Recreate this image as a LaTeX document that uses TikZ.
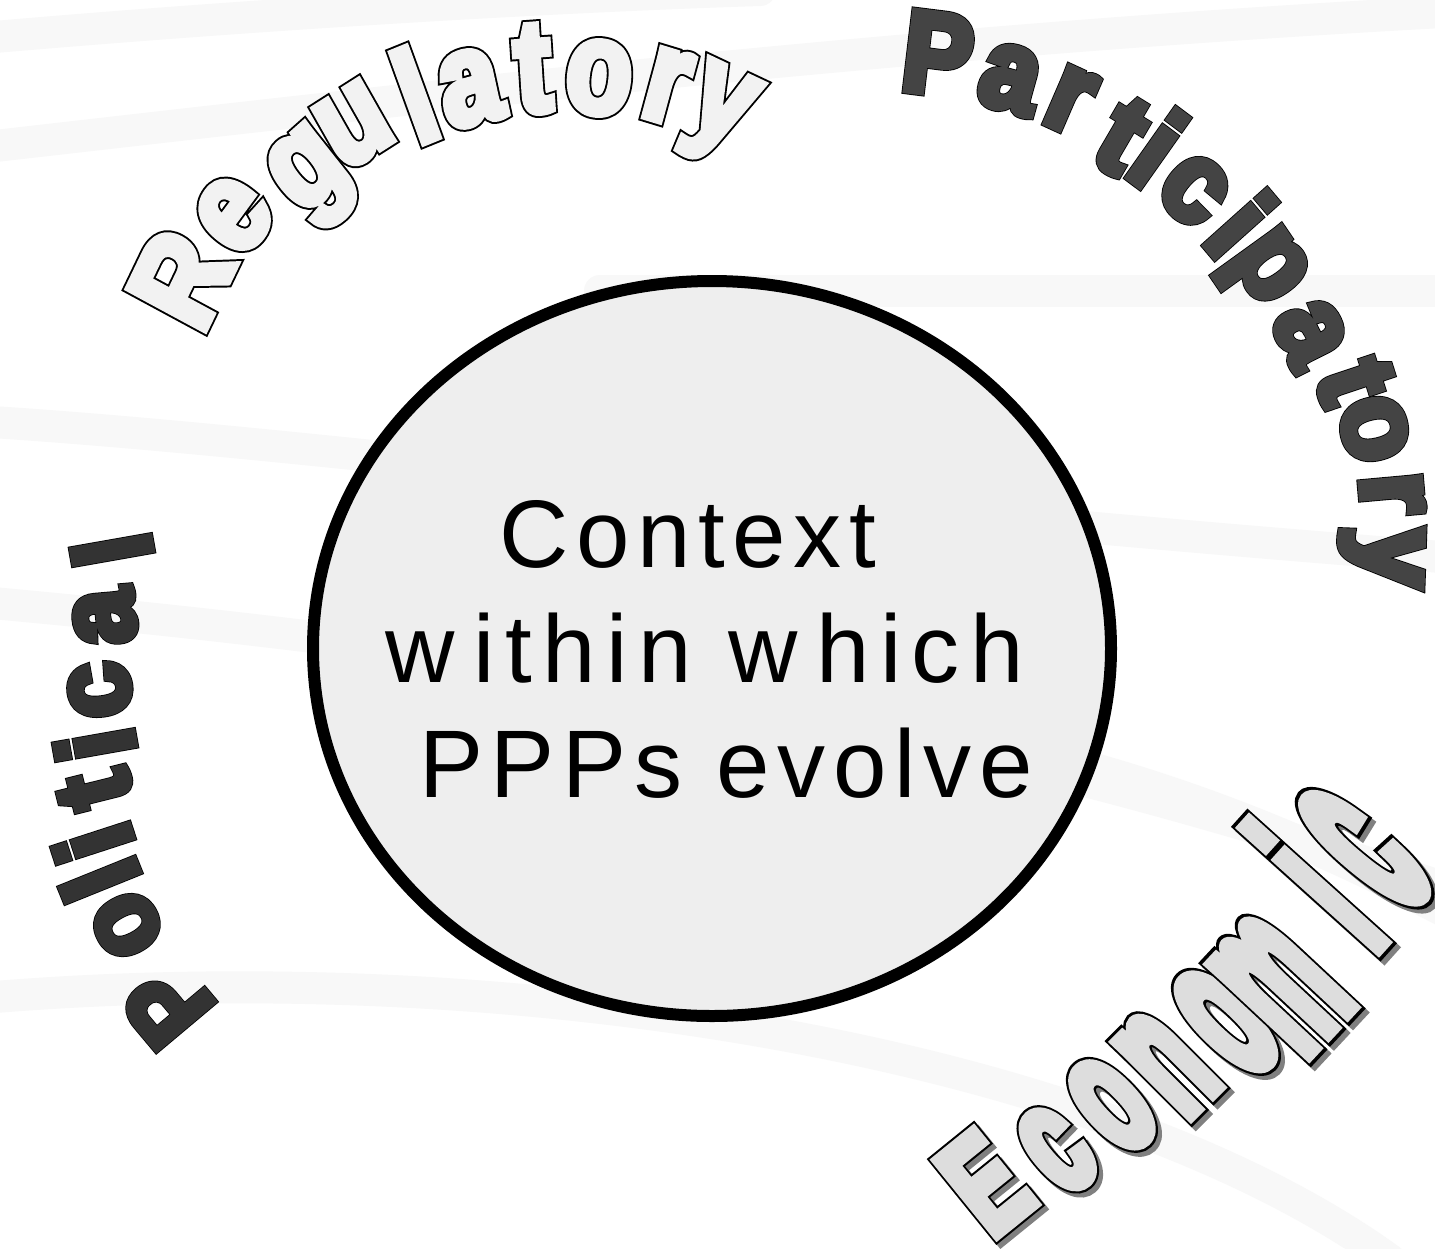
\documentclass[tikz,border=0pt]{standalone}
\usepackage{fontspec}
\usetikzlibrary{shapes.geometric}
\setmainfont{Liberation Sans}
\newfontfamily\ctxfont{Liberation Sans}[LetterSpace=8]
\newfontfamily\ctxwide{Liberation Sans}[LetterSpace=11]
\newfontfamily\regfillf{Liberation Sans Bold}[FakeBold=6, FakeStretch=0.86]
\newfontfamily\reglinef{Liberation Sans Bold}[FakeBold=9, FakeStretch=0.86]
\newfontfamily\heavyfill{Liberation Sans Bold}[FakeBold=6, FakeStretch=0.92]
\newfontfamily\heavyline{Liberation Sans Bold}[FakeBold=7.5, FakeStretch=0.92]
\newfontfamily\ecofill{Liberation Sans Bold}[FakeBold=7, FakeStretch=0.74]
\newfontfamily\ecoline{Liberation Sans Bold}[FakeBold=10, FakeStretch=0.74]
\definecolor{ctxgray}{HTML}{EEEEEE}
\definecolor{regfill}{HTML}{F2F2F2}
\definecolor{parfill}{HTML}{444444}
\definecolor{polfill}{HTML}{333333}
\definecolor{ecofillc}{HTML}{DDDDDD}
\definecolor{ecoshadow}{HTML}{808080}
\definecolor{band}{HTML}{F8F8F8}
\tikzset{
  ltr/.style={inner sep=0pt, outer sep=0pt, anchor=center},
  ctxtext/.style={inner sep=0pt, anchor=base, font=\fontsize{96}{115}\selectfont\ctxfont},
  bandline/.style={draw=band, line width=32pt, line cap=round},
  regstyle/.style={ltr, yscale=1.06, font=\fontsize{124}{124}\selectfont#1},
  parstyle/.style={ltr, yscale=1.03, font=\fontsize{112}{112}\selectfont#1},
  polstyle/.style={ltr, font=\fontsize{108}{108}\selectfont#1},
  ecostyle/.style={ltr, font=\fontsize{122}{122}\selectfont#1},
}
\def\reglist{181/279/63/R, 234/215/52/e, 314/178/40/g, 354/125/31/u,
   415/95/21/l, 470/88/13/a, 533/69/4/t, 599/78/-6/o, 667/86/-16/r, 718/116/-24/y}
\def\parlist{938/54/-7/P, 1010/79/-16/a, 1070/100/-24/r, 1122/136/-31/t,
   1158/148/-36/i, 1194/190/-42/c, 1241/224/-49/i, 1262/272/-55/p, 1310/333/-64/a,
   1355/381/-72/t, 1374/429/-77/o, 1392/494/-85/r, 1381/557/-92/y}
\def\pollist{168/1005/130/P, 127/925/118/o, 100/880/112/l, 93/843/108/i,
   95/790/104/t, 95/745/100/i, 100/690/97/c, 105/617/95/a, 112/550/100/l}
\def\ecolist{985/1183/39/1.15/E, 1057/1150/41/1.3/c,
   1112/1105/43/1.45/o, 1167/1064/45/1.6/n, 1226/1022/46/1.75/o,
   1281/985/47/2.0/m, 1314/885/48/2.0/i, 1364/849/50/2.2/c}
\begin{document}
\begin{tikzpicture}[x=1pt, y=-1pt]
\useasboundingbox (0,0) rectangle (1435,1248);
\fill[white] (0,0) rectangle (1435,1248);
% faint background bands
\begin{scope}
\clip (0,0) rectangle (1435,1248);
\draw[bandline] (-40,40) .. controls (300,10) and (600,-5) .. (760,-10);
\draw[bandline] (-40,150) .. controls (400,100) and (900,40) .. (1480,10);
\draw[bandline] (600,291) -- (1480,291);
\draw[bandline] (-40,420) .. controls (300,440) and (700,500) .. (1480,560);
\draw[bandline] (-40,600) .. controls (400,640) and (900,700) .. (1480,900);
\draw[bandline] (1000,745) .. controls (1200,790) and (1350,860) .. (1480,930);
\draw[bandline] (-40,1000) .. controls (500,950) and (1100,1050) .. (1390,1260);
\end{scope}
% central ellipse
\node[ellipse, draw=black, line width=12pt, fill=ctxgray,
      minimum width=798pt, minimum height=735pt, inner sep=0pt] (ctx) at (712,648.5) {};
\node[ctxtext] (l1) at (688,567) {Context};
\node[ctxtext, font=\fontsize{96}{115}\selectfont\ctxwide] (l2) at (705,682) {w\hspace{18pt}ithin w\hspace{18pt}hich};
\node[ctxtext] (l3) at (726,797) {PPPs evolve};
% Regulatory
\foreach \x/\y/\r/\c [count=\i] in \reglist
  \node[regstyle=\reglinef, rotate=\r, text=black] (rego\i) at (\x,\y) {\c};
\foreach \x/\y/\r/\c [count=\i] in \reglist
  \node[regstyle=\regfillf, rotate=\r, text=regfill] (reg\i) at (\x,\y) {\c};
% Participatory
\foreach \x/\y/\r/\c [count=\i] in \parlist
  \node[parstyle=\heavyline, rotate=\r, text=black] (paro\i) at (\x,\y) {\c};
\foreach \x/\y/\r/\c [count=\i] in \parlist
  \node[parstyle=\heavyfill, rotate=\r, text=parfill] (par\i) at (\x,\y) {\c};
% Political
\foreach \x/\y/\r/\c [count=\i] in \pollist
  \node[polstyle=\heavyline, rotate=\r, text=black] (polo\i) at (\x,\y) {\c};
\foreach \x/\y/\r/\c [count=\i] in \pollist
  \node[polstyle=\heavyfill, rotate=\r, text=polfill] (pol\i) at (\x,\y) {\c};
% Economic
\foreach \x/\y/\r/\k/\c [count=\i] in \ecolist
  \node[ecostyle=\ecoline, rotate=\r, yscale=\k, text=ecoshadow] (ecos\i) at (\x+4,\y+4) {\c};
\foreach \x/\y/\r/\k/\c [count=\i] in \ecolist {
  \node[ecostyle=\ecoline, rotate=\r, yscale=\k, text=black] (ecoo\i) at (\x,\y) {\c};
  \node[ecostyle=\ecofill, rotate=\r, yscale=\k, text=ecofillc] (eco\i) at (\x,\y) {\c};
}
\end{tikzpicture}
\end{document}
